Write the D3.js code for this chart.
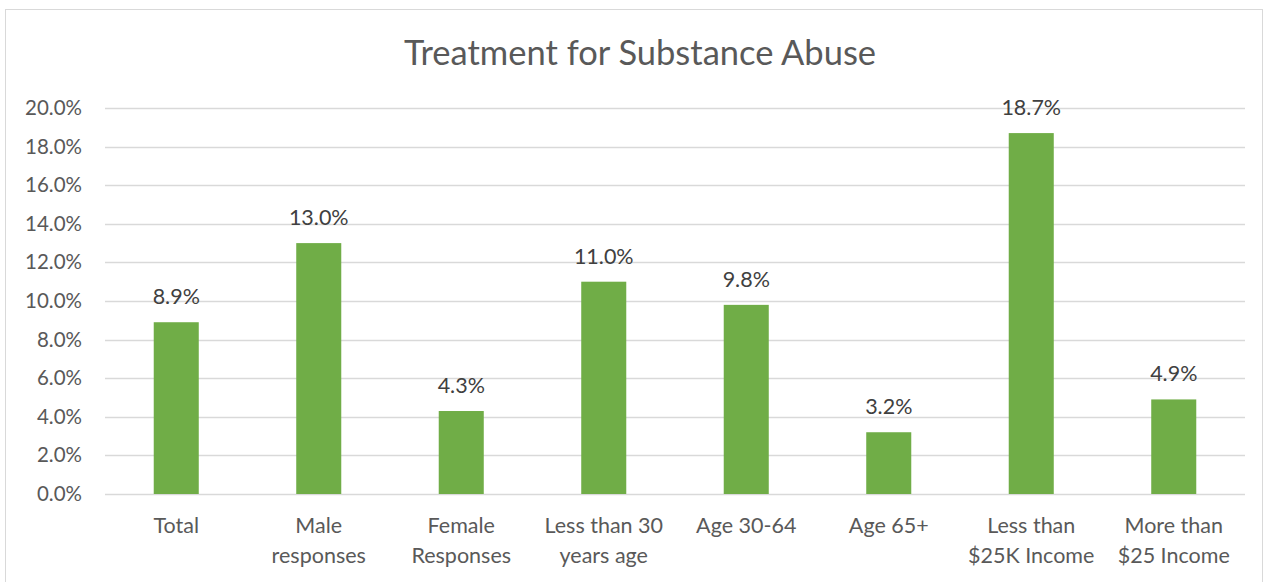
<!DOCTYPE html>
<html>
<head>
<meta charset="utf-8">
<script src="https://cdn.jsdelivr.net/npm/d3@7/dist/d3.min.js"></script>
<style>
  html, body { margin: 0; padding: 0; background: #fff; }
  svg { display: block; font-family: Lato, "Open Sans", sans-serif; }
</style>
</head>
<body>
<svg id="chart" width="1265" height="582"></svg>
<script>
// Share of respondents receiving treatment for substance abuse, by group
const categories = [
  ["Total"],
  ["Male", "responses"],
  ["Female", "Responses"],
  ["Less than 30", "years age"],
  ["Age 30-64"],
  ["Age 65+"],
  ["Less than", "$25K Income"],
  ["More than", "$25 Income"]
];
const values = [8.9, 13.0, 4.3, 11.0, 9.8, 3.2, 18.7, 4.9];
const yTicks = [0, 2, 4, 6, 8, 10, 12, 14, 16, 18, 20];
const title = "Treatment for Substance Abuse";

const svg = d3.select("#chart");
const W = 1265, H = 582;
const plot = { left: 105, right: 1245, top: 108, bottom: 494 };
const textColor = "#595959";

// outer chart frame
svg.append("rect")
  .attr("x", 5.5).attr("y", 9.5)
  .attr("width", W - 8).attr("height", H)
  .attr("fill", "#fff").attr("stroke", "#d9d9d9").attr("stroke-width", 1);

const x = d3.scaleBand()
  .domain(d3.range(categories.length))
  .range([plot.left, plot.right])
  .paddingInner(0.684).paddingOuter(0.342);

const y = d3.scaleLinear().domain([0, 20]).range([plot.bottom, plot.top]);

// horizontal gridlines
svg.append("g").selectAll("line")
  .data(yTicks)
  .join("line")
  .attr("x1", plot.left).attr("x2", plot.right)
  .attr("y1", d => Math.round(y(d)) + 0.5).attr("y2", d => Math.round(y(d)) + 0.5)
  .attr("stroke", "#d9d9d9").attr("stroke-width", 1.3);

// y axis labels
const yAxis = d3.axisLeft(y).tickValues(yTicks).tickSize(0).tickPadding(0)
  .tickFormat(d => d.toFixed(1) + "%");
const gy = svg.append("g").attr("transform", `translate(82,0)`).call(yAxis);
gy.select(".domain").remove();
gy.selectAll("text")
  .attr("fill", textColor)
  .style("font-size", "20.5px")
  .style("font-family", "Lato, 'Open Sans', sans-serif");

// bars
svg.append("g").selectAll("rect")
  .data(values)
  .join("rect")
  .attr("x", (d, i) => x(i))
  .attr("width", x.bandwidth())
  .attr("y", d => y(d))
  .attr("height", d => y(0) - y(d))
  .attr("fill", "#70ad47");

// value labels
svg.append("g").selectAll("text")
  .data(values)
  .join("text")
  .attr("x", (d, i) => x(i) + x.bandwidth() / 2)
  .attr("y", d => y(d) - 18)
  .attr("text-anchor", "middle")
  .attr("fill", "#404040")
  .style("font-size", "21.5px")
  .text(d => d.toFixed(1) + "%");

// category labels
const cat = svg.append("g").selectAll("text")
  .data(categories)
  .join("text")
  .attr("x", (d, i) => x(i) + x.bandwidth() / 2)
  .attr("y", 533)
  .attr("text-anchor", "middle")
  .attr("fill", textColor)
  .style("font-size", "21.5px");
cat.selectAll("tspan")
  .data(d => d)
  .join("tspan")
  .attr("x", function () { return d3.select(this.parentNode).attr("x"); })
  .attr("dy", (d, i) => i === 0 ? 0 : 30)
  .text(d => d);

// title
svg.append("text")
  .attr("x", 640).attr("y", 65)
  .attr("text-anchor", "middle")
  .attr("fill", textColor)
  .style("font-size", "34.5px")
  .text(title);
</script>
</body>
</html>
